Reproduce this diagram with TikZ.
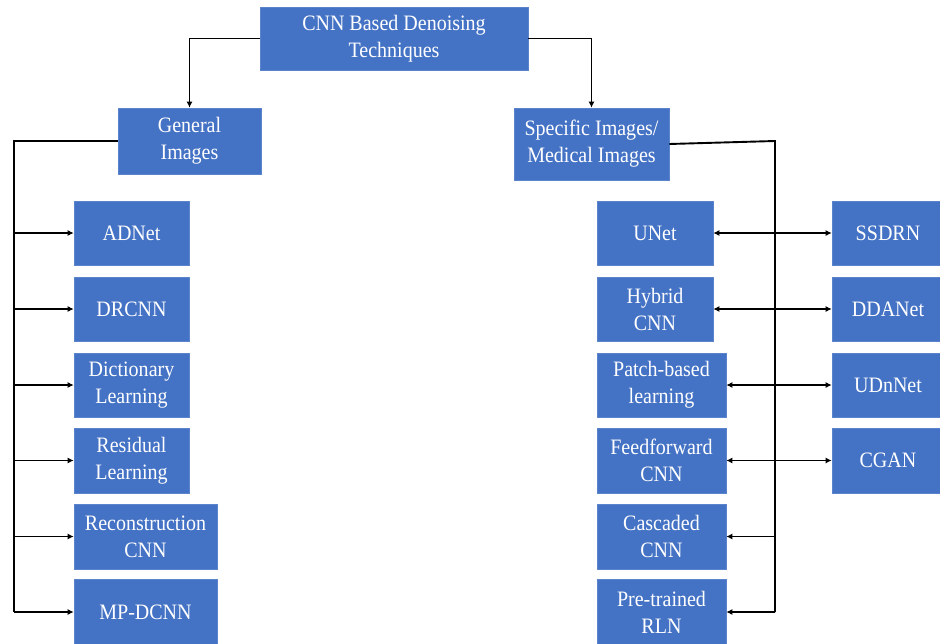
\documentclass[tikz,border=0pt]{standalone}
\usepackage{fontspec}
\setmainfont{Liberation Serif}[FakeStretch=0.91]
\usetikzlibrary{arrows.meta}
\definecolor{boxblue}{HTML}{4472C4}
\definecolor{boxedge}{HTML}{5B84CC}
\begin{document}
\begin{tikzpicture}[x=1pt,y=-1pt,
  box/.style={fill=boxblue,draw=boxedge,line width=0.6pt,text=white,align=center,
    inner sep=0pt,font=\fontsize{22}{27}\selectfont},
  link/.style={draw=black,line width=1.9pt},
  tip/.style={-{Latex[length=6pt,width=6pt]}},
  both/.style={{Latex[length=6pt,width=6pt]}-{Latex[length=6pt,width=6pt]}}]
\useasboundingbox (0,0) rectangle (940,643);
\fill[white] (0,0) rectangle (940,643);

% root and the two branches
\node[box,minimum width=268pt,minimum height=63pt] (root) at (394,38.5) {CNN Based Denoising\\Techniques};
\node[box,minimum width=143pt,minimum height=66pt] (gen) at (189.5,141) {General\\Images};
\node[box,minimum width=155pt,minimum height=72pt] (spec) at (591.5,144) {Specific Images/\\Medical Images};

% general images column
\node[box,minimum width=115pt,minimum height=64pt] (adnet) at (131.5,233) {ADNet};
\node[box,minimum width=115pt,minimum height=64pt] (drcnn) at (131.5,309) {DRCNN};
\node[box,minimum width=115pt,minimum height=64pt] (dict) at (131.5,385) {Dictionary\\Learning};
\node[box,minimum width=115pt,minimum height=65pt] (resid) at (131.5,460.5) {Residual\\Learning};
\node[box,minimum width=143pt,minimum height=65pt] (recon) at (145.5,536.5) {Reconstruction\\CNN};
\node[box,minimum width=143pt,minimum height=66pt] (mpd) at (145.5,612) {MP-DCNN};

% specific images, inner column
\node[box,minimum width=116pt,minimum height=64pt] (unet) at (655,233) {UNet};
\node[box,minimum width=116pt,minimum height=64pt] (hyb) at (655,309) {Hybrid\\CNN};
\node[box,minimum width=129pt,minimum height=64pt] (patch) at (661.5,385) {Patch-based\\learning};
\node[box,minimum width=129pt,minimum height=65pt] (ffw) at (661.5,460.5) {Feedforward\\CNN};
\node[box,minimum width=129pt,minimum height=65pt] (casc) at (661.5,536.5) {Cascaded\\CNN};
\node[box,minimum width=129pt,minimum height=66pt] (pre) at (661.5,612) {Pre-trained\\RLN};

% specific images, outer column
\node[box,minimum width=112pt,minimum height=64pt] (ssdrn) at (888,233) {SSDRN};
\node[box,minimum width=112pt,minimum height=64pt] (dda) at (888,309) {DDANet};
\node[box,minimum width=112pt,minimum height=64pt] (udn) at (888,385) {UDnNet};
\node[box,minimum width=112pt,minimum height=65pt] (cgan) at (888,460.5) {CGAN};

% bus coordinates
\coordinate (lt) at (14,141);
\coordinate (lb) at (14,612);
\coordinate (rt) at (775,141);
\coordinate (rb) at (775,612);

% root to branches
\draw[link,tip] (root.west) -| (gen.north);
\draw[link,tip] (root.east) -| (spec.north);

% left bus
\draw[link] (gen.west) -- (lt) -- (lb);
\foreach \n in {adnet,drcnn,dict,resid,recon}
  \draw[link,tip] (lt |- \n.west) -- (\n.west);
\draw[link,tip] (lb) -- (mpd.west);

% right bus
\draw[link] (spec.east) -- (rt) -- (rb);
\draw[link,both] (unet.east) -- (ssdrn.west);
\draw[link,both] (hyb.east) -- (dda.west);
\draw[link,both] (patch.east) -- (udn.west);
\draw[link,both] (ffw.east) -- (cgan.west);
\draw[link,tip] (rt |- casc.east) -- (casc.east);
\draw[link,tip] (rb) -- (pre.east);
\end{tikzpicture}
\end{document}
